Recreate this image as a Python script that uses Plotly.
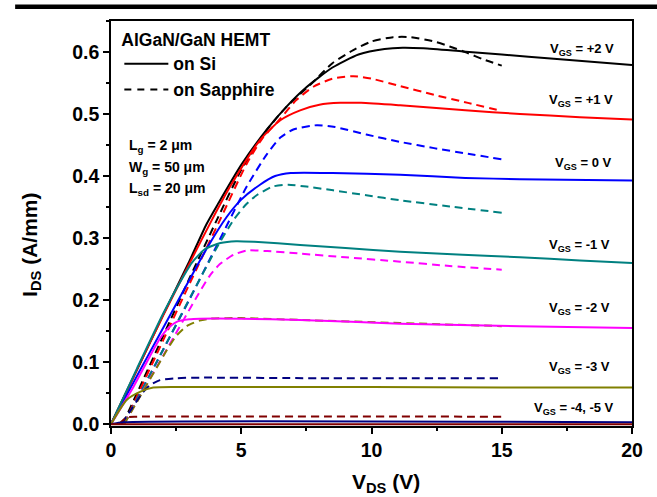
import plotly.graph_objects as go

# ---------------- data ----------------
# On Si (solid), V_GS = +2 ... -5 V
vds_si_p2 = [0, 1, 2, 3, 3.66, 4.12, 5, 6, 6.74, 7.5, 8.5, 9.5, 10.5, 11.2, 12, 13.5, 15, 17, 20]
ids_si_p2 = [0, 0.088, 0.176, 0.262, 0.322, 0.356, 0.418, 0.476, 0.512, 0.543, 0.575, 0.596, 0.605, 0.607, 0.606, 0.601, 0.596, 0.589, 0.579]

vds_si_p1 = [0, 1, 2, 3, 3.87, 4.6, 5.72, 6.5, 7.26, 8, 8.8, 9.6, 11.1, 13.6, 15.7, 18, 20]
ids_si_p1 = [0, 0.088, 0.175, 0.258, 0.329, 0.385, 0.458, 0.49, 0.506, 0.515, 0.518, 0.518, 0.514, 0.506, 0.5, 0.495, 0.491]

vds_si_0 = [0, 1, 2, 3, 3.7, 4.44, 5, 5.72, 6.3, 6.9, 8.5, 11.1, 13.6, 15.7, 20]
ids_si_0 = [0, 0.078, 0.155, 0.232, 0.285, 0.334, 0.362, 0.386, 0.4, 0.405, 0.405, 0.402, 0.397, 0.395, 0.393]

vds_si_m1 = [0, 1, 2, 2.6, 3.1, 3.6, 4.2, 4.8, 5.5, 7.26, 9, 11.1, 13.5, 15.7, 18, 20]
ids_si_m1 = [0, 0.09, 0.178, 0.225, 0.26, 0.282, 0.292, 0.295, 0.294, 0.289, 0.284, 0.278, 0.273, 0.269, 0.264, 0.26]

vds_si_m2 = [0, 0.86, 1.5, 1.88, 2.2, 2.52, 3, 3.42, 5, 7.26, 11.1, 15.7, 20]
ids_si_m2 = [0, 0.06, 0.11, 0.138, 0.155, 0.165, 0.169, 0.17, 0.17, 0.168, 0.162, 0.158, 0.155]

vds_si_m3 = [0, 0.6, 1.11, 1.62, 2.5, 5, 10, 15, 20]
ids_si_m3 = [0, 0.039, 0.052, 0.059, 0.06, 0.06, 0.06, 0.059, 0.059]

vds_si_m4 = [0, 0.5, 20]
ids_si_m4 = [0, 0.003, 0.003]

vds_si_m5 = [0, 20]
ids_si_m5 = [0, 0]

# On Sapphire (dashed)
vds_sa_p2 = [0.45, 1, 2, 3, 4.06, 5, 5.98, 6.7, 7.77, 8.5, 9.3, 10, 10.83, 11.5, 12.4, 13, 13.65, 14.3, 15]
ids_sa_p2 = [0, 0.05, 0.142, 0.234, 0.329, 0.41, 0.474, 0.51, 0.552, 0.582, 0.603, 0.617, 0.624, 0.624, 0.617, 0.609, 0.599, 0.588, 0.578]

vds_sa_p1 = [0.5, 1, 2, 3, 4.18, 5.21, 5.8, 6.49, 7.1, 7.77, 8.5, 9.3, 10, 11.1, 12.4, 13.7, 15]
ids_sa_p1 = [0, 0.045, 0.135, 0.225, 0.329, 0.42, 0.46, 0.492, 0.522, 0.544, 0.557, 0.561, 0.557, 0.545, 0.531, 0.518, 0.505]

vds_sa_0 = [0.5, 1, 2, 3, 4, 5.21, 5.98, 6.5, 7.0, 7.9, 8.6, 9.8, 11.1, 12.4, 13.7, 15]
ids_sa_0 = [0, 0.04, 0.12, 0.2, 0.283, 0.383, 0.435, 0.462, 0.475, 0.482, 0.479, 0.467, 0.455, 0.445, 0.436, 0.427]

vds_sa_m1 = [0.5, 1, 2, 3.16, 4, 4.7, 5.2, 5.59, 6.2, 6.8, 7.5, 8.53, 9.8, 11.1, 13, 15]
ids_sa_m1 = [0, 0.04, 0.12, 0.214, 0.28, 0.329, 0.355, 0.369, 0.383, 0.386, 0.383, 0.377, 0.369, 0.361, 0.351, 0.341]

vds_sa_m2 = [0.5, 1, 2, 3.29, 3.8, 4.18, 4.7, 5.21, 6, 7.26, 9, 11.1, 13, 15]
ids_sa_m2 = [0, 0.037, 0.11, 0.205, 0.24, 0.258, 0.273, 0.28, 0.279, 0.275, 0.269, 0.262, 0.255, 0.249]

vds_sa_m3 = [0.5, 1, 1.6, 2.14, 2.5, 2.9, 3.4, 3.8, 5, 7.26, 11.1, 15]
ids_sa_m3 = [0, 0.036, 0.08, 0.119, 0.142, 0.158, 0.167, 0.17, 0.171, 0.168, 0.163, 0.158]

vds_sa_m4 = [0.4, 0.8, 1.2, 1.5, 1.88, 2.5, 3.42, 8, 15]
ids_sa_m4 = [0, 0.025, 0.05, 0.063, 0.071, 0.074, 0.075, 0.074, 0.074]

vds_sa_m5 = [0.3, 0.45, 0.6, 1, 15]
ids_sa_m5 = [0, 0.006, 0.011, 0.012, 0.012]

colors = ["#000000", "#ff0000", "#0000ff", "#008080", "#ff00ff", "#808000", "#000080", "#800000"]

si_curves = [(vds_si_p2, ids_si_p2), (vds_si_p1, ids_si_p1), (vds_si_0, ids_si_0), (vds_si_m1, ids_si_m1),
             (vds_si_m2, ids_si_m2), (vds_si_m3, ids_si_m3), (vds_si_m4, ids_si_m4), (vds_si_m5, ids_si_m5)]
sa_curves = [(vds_sa_p2, ids_sa_p2), (vds_sa_p1, ids_sa_p1), (vds_sa_0, ids_sa_0), (vds_sa_m1, ids_sa_m1),
             (vds_sa_m2, ids_sa_m2), (vds_sa_m3, ids_sa_m3), (vds_sa_m4, ids_sa_m4), (vds_sa_m5, ids_sa_m5)]

vgs_labels = ["+2 V", "+1 V", "0 V", "-1 V", "-2 V", "-3 V", "-4, -5 V"]
vgs_label_x = [16.78, 16.74, 16.97, 16.74, 16.74, 16.74, 16.16]
vgs_label_y = [0.604, 0.522, 0.421, 0.288, 0.187, 0.092, 0.026]

params = ["L<sub>g</sub> = 2 μm", "W<sub>g</sub> = 50 μm", "L<sub>sd</sub> = 20 μm"]
params_y = [0.691, 0.638, 0.584]

FONT = "Liberation Sans, Arial, sans-serif"

fig = go.Figure()

for (x, y), c in zip(sa_curves, colors):
    fig.add_trace(go.Scatter(x=x, y=y, mode="lines", showlegend=False,
                             line=dict(color=c, width=2, dash="8px,5px", shape="spline", smoothing=0.6)))
for (x, y), c in zip(si_curves, colors):
    fig.add_trace(go.Scatter(x=x, y=y, mode="lines", showlegend=False,
                             line=dict(color=c, width=2, shape="spline", smoothing=0.6)))

# legend entries
fig.add_trace(go.Scatter(x=[None], y=[None], mode="lines", name="on Si",
                         line=dict(color="black", width=2)))
fig.add_trace(go.Scatter(x=[None], y=[None], mode="lines", name="on Sapphire",
                         line=dict(color="black", width=2, dash="7px,6px")))

annotations = []
for t, xx, yy in zip(vgs_labels, vgs_label_x, vgs_label_y):
    annotations.append(dict(text="V<sub>GS</sub> = " + t, x=xx, y=yy, xref="x", yref="y",
                            xanchor="left", yanchor="middle", showarrow=False,
                            font=dict(family=FONT, size=13, color="black", weight="bold")))
for t, yy in zip(params, params_y):
    annotations.append(dict(text=t, x=0.031, y=yy, xref="paper", yref="paper",
                            xanchor="left", yanchor="middle", showarrow=False,
                            font=dict(family=FONT, size=14, color="black", weight="bold")))
annotations.append(dict(text="V<sub>DS</sub> (V)", x=0.528, y=-0.141, xref="paper", yref="paper",
                        xanchor="center", yanchor="middle", showarrow=False,
                        font=dict(family=FONT, size=21, color="black", weight="bold")))
annotations.append(dict(text="I<sub>DS</sub> (A/mm)", x=-0.1536, y=0.447, xref="paper", yref="paper",
                        xanchor="center", yanchor="middle", showarrow=False, textangle=-90,
                        font=dict(family=FONT, size=21, color="black", weight="bold")))

fig.update_layout(
    width=657, height=497,
    margin=dict(l=111, r=25, t=21, b=71),
    paper_bgcolor="white", plot_bgcolor="white",
    font=dict(family=FONT, color="black"),
    annotations=annotations,
    shapes=[dict(type="line", xref="paper", yref="paper", x0=-0.184, x1=1.05, y0=1.035, y1=1.035,
                 line=dict(color="black", width=4.5))],
    legend=dict(x=0.016, y=0.995, xanchor="left", yanchor="top", bgcolor="rgba(255,255,255,0)",
                borderwidth=0, tracegroupgap=0, itemwidth=44,
                title=dict(text="AlGaN/GaN HEMT", side="top",
                           font=dict(family=FONT, size=17.5, color="black", weight="bold")),
                font=dict(family=FONT, size=17.5, color="black", weight="bold")),
)

fig.update_xaxes(range=[0, 20], dtick=5, tick0=0, showgrid=False, zeroline=False,
                 showline=True, linecolor="black", linewidth=1.5, mirror=True,
                 ticks="outside", ticklen=6, tickwidth=1.5, tickcolor="black",
                 minor=dict(dtick=2.5, ticks="outside", ticklen=3, tickwidth=1.5, tickcolor="black"),
                 tickfont=dict(family=FONT, size=19.5, color="black", weight="bold"))
fig.update_yaxes(range=[-0.003, 0.65], dtick=0.1, tick0=0, tickformat=".1f", showgrid=False, zeroline=False,
                 showline=True, linecolor="black", linewidth=1.5, mirror=True,
                 ticks="outside", ticklen=6, tickwidth=1.5, tickcolor="black",
                 minor=dict(dtick=0.05, ticks="outside", ticklen=3, tickwidth=1.5, tickcolor="black"),
                 tickfont=dict(family=FONT, size=19.5, color="black", weight="bold"))

fig.write_html("out.html")
